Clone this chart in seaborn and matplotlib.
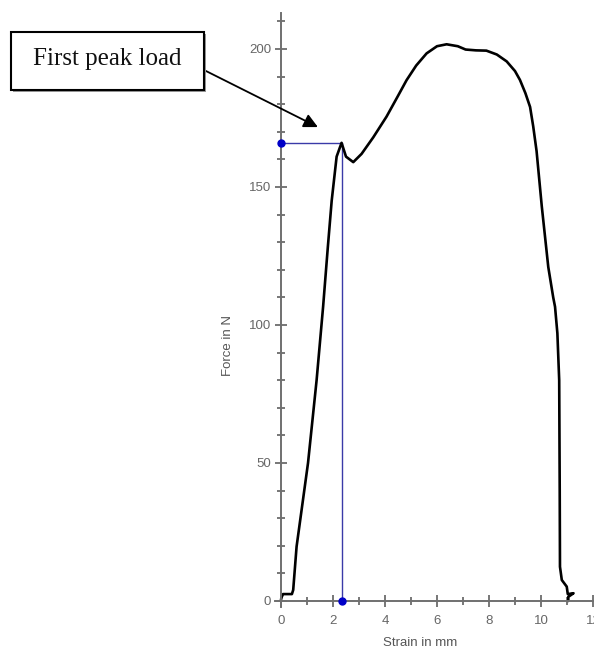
import matplotlib
matplotlib.use("Agg")
import matplotlib.pyplot as plt
import matplotlib.patches as mpatches
from matplotlib.ticker import MultipleLocator
import seaborn as sns
import pandas as pd

strain = [0.0, 0.03, 0.08, 0.42, 0.47, 0.6, 1.04, 1.37, 1.62, 1.8, 1.95, 2.14,
          2.33, 2.5, 2.78, 3.1, 3.55, 4.06, 4.5, 4.83, 5.2, 5.6, 6.0, 6.37, 6.8,
          7.1, 7.5, 7.9, 8.3, 8.68, 9.0, 9.19, 9.4, 9.58, 9.7, 9.83, 10.03,
          10.28, 10.47, 10.54, 10.63, 10.7, 10.72, 10.73, 10.8, 10.99, 11.03,
          11.25, 11.05, 11.05]
force = [0.5, 1.5, 2.5, 2.5, 4.0, 19.7, 50.0, 80.0, 106.6, 128.0, 145.0, 161.0,
         166.0, 161.0, 159.0, 162.0, 168.0, 175.5, 183.0, 188.7, 194.0, 198.4,
         201.0, 201.7, 201.0, 199.8, 199.5, 199.4, 198.0, 195.5, 192.0, 188.8,
         184.0, 179.0, 172.0, 163.0, 143.0, 121.0, 110.0, 106.6, 97.0, 80.0,
         40.0, 12.4, 7.6, 5.2, 2.5, 2.8, 1.5, 0.0]

peak_strain = 2.35
peak_force = 166.0
annotation_text = "First peak load"
x_label = "Strain in mm"
y_label = "Force in N"

df = pd.DataFrame({"strain": strain, "force": force})

sns.set_style("white")
plt.rcParams["font.family"] = ["Liberation Sans", "DejaVu Sans"]

W, H = 594, 649
fig = plt.figure(figsize=(W / 100, H / 100), dpi=100)
ax = fig.add_axes([275 / W, 1 - 606.5 / H, 319.3 / W, 593.4 / H])

sns.lineplot(data=df, x="strain", y="force", sort=False, estimator=None,
             color="black", linewidth=1.9, ax=ax)

# blue first-peak guides
blue = "#3a3aa8"
ax.plot([0, peak_strain], [peak_force, peak_force], color=blue, lw=1.0, zorder=1)
ax.plot([peak_strain, peak_strain], [0, peak_force], color=blue, lw=1.0, zorder=1)
ax.plot([0, peak_strain], [peak_force, 0], linestyle="none", marker="o",
        markersize=5, color="#0000c8", zorder=5, clip_on=False)

ax.set_xlim(-0.23, 12.05)
ax.set_ylim(-2, 213)
ax.spines["left"].set_position(("data", 0))
ax.spines["bottom"].set_position(("data", 0))
for s in ["top", "right"]:
    ax.spines[s].set_visible(False)
for s in ["left", "bottom"]:
    ax.spines[s].set_color("#707070")
    ax.spines[s].set_linewidth(1.4)

ax.xaxis.set_major_locator(MultipleLocator(2))
ax.xaxis.set_minor_locator(MultipleLocator(1))
ax.yaxis.set_major_locator(MultipleLocator(50))
ax.yaxis.set_minor_locator(MultipleLocator(10))
ax.tick_params(which="both", direction="inout", color="#606060", width=1.2,
               labelcolor="#666666", labelsize=9.5, bottom=True, left=True,
               top=False, right=False)
ax.tick_params(which="major", length=8)
ax.tick_params(which="minor", length=6)
ax.tick_params(axis="x", which="major", pad=6)
ax.tick_params(axis="y", which="major", pad=3)

ax.set_xlabel(x_label, fontsize=9.5, color="#555555")
ax.set_ylabel(y_label, fontsize=9.5, color="#555555")
ax.xaxis.set_label_coords((420 - 275) / 319.3, -(643 - 606.5) / 593.4)
ax.yaxis.set_label_coords(-(275 - 228) / 319.3, (606.5 - 345) / 593.4)
ax.xaxis.label.set_va("center")
ax.yaxis.label.set_va("center")

# annotation box
bx0, by0, bx1, by1 = 11, 32, 204, 90
shadow = mpatches.Rectangle(((bx0 + 2) / W, 1 - (by1 + 2) / H),
                            (bx1 - bx0) / W, (by1 - by0) / H,
                            transform=fig.transFigure, facecolor="#999999",
                            edgecolor="none", zorder=2)
box = mpatches.Rectangle((bx0 / W, 1 - by1 / H), (bx1 - bx0) / W, (by1 - by0) / H,
                         transform=fig.transFigure, facecolor="white",
                         edgecolor="black", linewidth=1.5, zorder=3)
fig.patches.extend([shadow, box])
fig.text((bx0 + bx1) / 2 / W, 1 - (by0 + by1) / 2 / H + 0.003, annotation_text,
         family=["Liberation Serif", "DejaVu Serif"], fontsize=18,
         color="#111111", ha="center", va="center", zorder=4)

ax.annotate("", xy=(1.42, 171.7), xycoords="data",
            xytext=(204 / W, 1 - 70 / H), textcoords="figure fraction",
            arrowprops=dict(arrowstyle="-|>,head_length=0.6,head_width=0.3",
                            color="black", lw=1.3, shrinkA=0, shrinkB=0,
                            mutation_scale=14),
            annotation_clip=False)

fig.savefig("out.png", dpi=100)
